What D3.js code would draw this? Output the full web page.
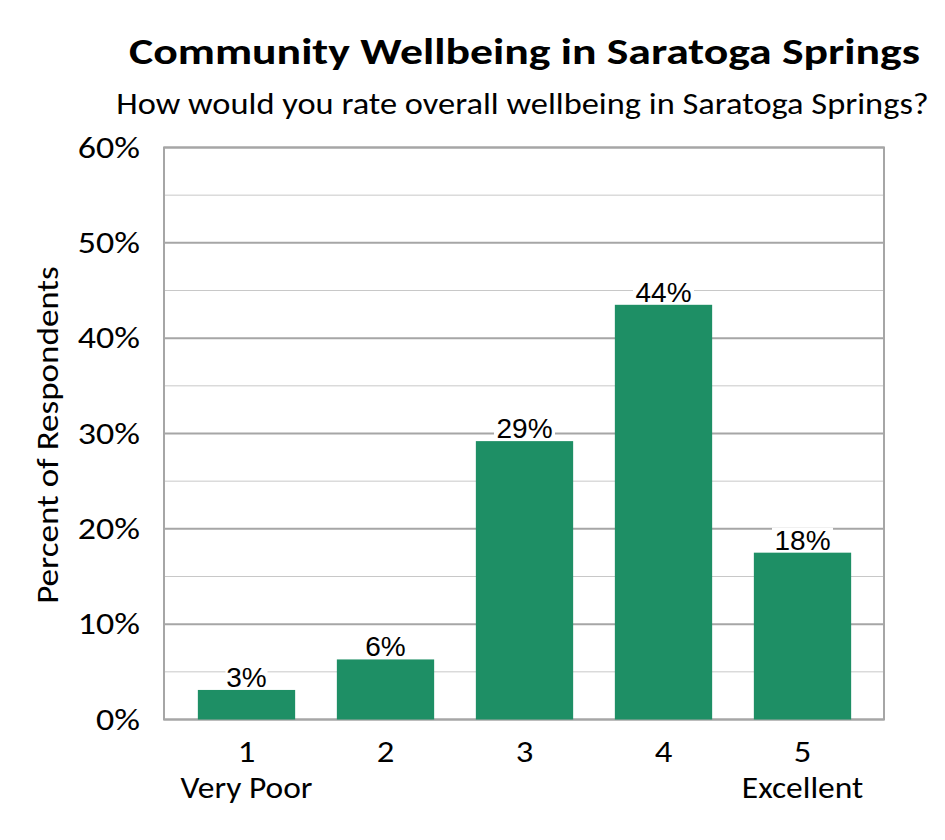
<!DOCTYPE html>
<html><head><meta charset="utf-8">
<script src="https://cdn.jsdelivr.net/npm/d3@7"></script>
<style>body{margin:0;background:#fff}</style>
</head><body>
<svg id="c" width="945" height="840"></svg>
<script>
const categories = ["1","2","3","4","5"];
const subLabels = ["Very Poor","","","","Excellent"];
const values = [3.1, 6.3, 29.2, 43.5, 17.5];
const valueLabels = ["3%","6%","29%","44%","18%"];
const yTicks = [0,10,20,30,40,50,60];
const minorTicks = [5,15,25,35,45,55];

const F = "Carlito, Lato, 'Open Sans', sans-serif";
const svg = d3.select("#c");
const L=164, R=884, T=147.5, B=719.5;
const y = d3.scaleLinear().domain([0,60]).range([B,T]);
const x = d3.scaleBand().domain(categories).range([177,872]).paddingInner(0.3).paddingOuter(0.15);

svg.append("g").selectAll("line").data(minorTicks).join("line")
  .attr("x1",L).attr("x2",R).attr("y1",d=>y(d)).attr("y2",d=>y(d))
  .attr("stroke","#c8c8c8").attr("stroke-width",1);
svg.append("g").selectAll("line").data(yTicks).join("line")
  .attr("x1",L).attr("x2",R).attr("y1",d=>y(d)).attr("y2",d=>y(d))
  .attr("stroke","#a6a6a6").attr("stroke-width",2);
svg.append("rect").attr("x",L).attr("y",T).attr("width",R-L).attr("height",B-T)
  .attr("fill","none").attr("stroke","#a6a6a6").attr("stroke-width",2);

svg.append("g").selectAll("rect").data(values).join("rect")
  .attr("x",(d,i)=>x(categories[i])).attr("width",x.bandwidth())
  .attr("y",d=>y(d)).attr("height",d=>B-y(d)).attr("fill","#1e8f65");

const lbl = svg.append("g").selectAll("g").data(values).join("g")
  .attr("transform",(d,i)=>`translate(${x(categories[i])+x.bandwidth()/2},${y(d)-3})`);
lbl.append("rect").attr("y",-22).attr("height",20).attr("fill","#fff")
  .attr("width",(d,i)=>valueLabels[i].length*19+4).attr("x",(d,i)=>-(valueLabels[i].length*19+4)/2);
lbl.append("text").attr("text-anchor","middle").attr("font-family","'Liberation Sans', Arial, sans-serif")
  .attr("font-size",28).attr("fill","#000").text((d,i)=>valueLabels[i]);

function stretched(g, px, py, sx, rot){
  return g.append("g").attr("transform",`translate(${px},${py})${rot?" rotate("+rot+")":""} scale(${sx},1)`);
}

svg.append("g").selectAll("g").data(yTicks).join("g")
  .attr("transform",d=>`translate(140,${y(d)+10}) scale(1.16,1)`)
  .append("text").attr("text-anchor","end")
  .attr("font-family",F).attr("font-size",31).text(d=>d+"%");

svg.append("g").selectAll("g").data(categories).join("g")
  .attr("transform",d=>`translate(${x(d)+x.bandwidth()/2},762) scale(1.12,1)`)
  .append("text").attr("text-anchor","middle")
  .attr("font-family",F).attr("font-size",31).text(d=>d);
svg.append("g").selectAll("g").data(categories).join("g")
  .attr("transform",d=>`translate(${x(d)+x.bandwidth()/2},798) scale(1.08,1)`)
  .append("text").attr("text-anchor","middle")
  .attr("font-family",F).attr("font-size",31).text((d,i)=>subLabels[i]);

stretched(svg,58,435,1.13,-90).append("text").attr("text-anchor","middle")
  .attr("font-family",F).attr("font-size",31).text("Percent of Respondents");

stretched(svg,524.5,64,1.27).append("text").attr("text-anchor","middle")
  .attr("font-family",F).attr("font-weight","bold").attr("font-size",36).text("Community Wellbeing in Saratoga Springs");
stretched(svg,522.5,114,1.11).append("text").attr("text-anchor","middle")
  .attr("font-family",F).attr("font-size",31).text("How would you rate overall wellbeing in Saratoga Springs?");
</script>
</body></html>
